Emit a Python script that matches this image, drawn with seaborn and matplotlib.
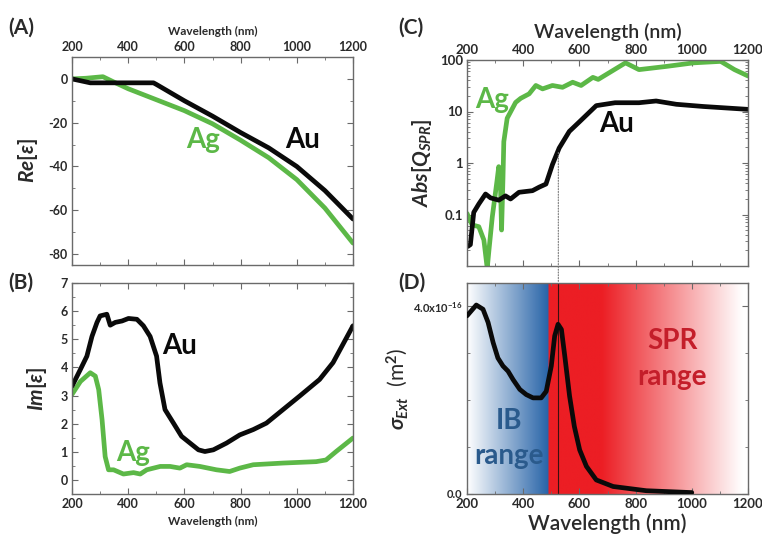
import numpy as np
import pandas as pd
import matplotlib
matplotlib.use("Agg")
import matplotlib.pyplot as plt
import seaborn as sns
from matplotlib.patches import ConnectionPatch
from matplotlib.ticker import MultipleLocator, FixedLocator, FixedFormatter, NullFormatter, LogLocator

# ---------------- data ----------------
wl_re_au = [200, 265, 490, 500, 600, 700, 800, 900, 1000, 1100, 1200]
re_au = [0, -1.8, -1.8, -2.5, -10, -17, -24.5, -31.5, -40, -51, -64]
wl_re_ag = [200, 250, 310, 350, 400, 450, 500, 600, 700, 800, 900, 1000, 1100, 1200]
re_ag = [0, 0.3, 1.0, -1.5, -4.5, -7, -9.5, -14.5, -20.5, -28, -36, -46, -59, -75]

wl_im_au = [200, 230, 253, 271, 289, 300, 324, 336, 354, 378, 401, 431, 454, 478, 501, 513,
            531, 561, 590, 620, 650, 673, 703, 750, 797, 845, 892, 951, 1010, 1081, 1129, 1200]
im_au = [3.33, 3.93, 4.4, 5.1, 5.6, 5.83, 5.89, 5.5, 5.6, 5.65, 5.74, 5.71, 5.48, 5.1, 4.4, 3.45,
         2.5, 2.02, 1.55, 1.31, 1.07, 1.01, 1.07, 1.31, 1.6, 1.79, 2.02, 2.5, 2.98, 3.57, 4.17, 5.48]
wl_im_ag = [200, 230, 265, 283, 295, 307, 318, 330, 348, 383, 419, 443, 466, 514, 549, 584,
            608, 655, 714, 761, 797, 845, 951, 1069, 1104, 1140, 1200]
im_ag = [3.04, 3.5, 3.81, 3.69, 3.21, 2.14, 0.83, 0.36, 0.36, 0.21, 0.26, 0.21, 0.36, 0.48, 0.48, 0.42,
         0.54, 0.48, 0.36, 0.3, 0.42, 0.54, 0.6, 0.65, 0.71, 1.01, 1.49]

wl_q_ag = [200, 218, 242, 260, 272, 278, 290, 307, 313, 319, 323, 328, 331, 343, 373, 391, 421,
           445, 469, 504, 540, 576, 606, 648, 667, 764, 812, 909, 1006, 1103, 1152, 1200]
q_ag = [0.105, 0.063, 0.058, 0.032, 0.009, 0.02, 0.09, 0.46, 0.85, 0.4, 0.05, 0.5, 2.6, 7.4, 15,
        18, 22, 32, 27.5, 32, 29.5, 37, 32, 46, 42, 88, 65, 75, 88, 94, 65, 49]
wl_q_au = [203, 212, 224, 242, 266, 284, 313, 337, 355, 385, 433, 457, 481, 504, 528, 564, 600,
           660, 727, 812, 873, 945, 1042, 1200]
q_au = [0.024, 0.026, 0.11, 0.16, 0.25, 0.21, 0.19, 0.23, 0.2, 0.27, 0.29, 0.34, 0.39, 0.93, 1.95,
        4.1, 6.3, 13, 14.8, 14.8, 16, 13.8, 12.5, 11]

wl_ext = [200, 233, 257, 275, 293, 310, 328, 346, 364, 388, 411, 435, 464, 482, 500, 512, 524,
          536, 548, 565, 582, 601, 625, 660, 720, 838, 1000]
ext = [3.8, 4.03, 3.94, 3.66, 3.23, 2.9, 2.73, 2.62, 2.44, 2.23, 2.12, 2.05, 2.05, 2.19, 2.73,
       3.37, 3.62, 3.51, 2.94, 2.09, 1.44, 0.94, 0.59, 0.3, 0.16, 0.07, 0.03]
ext = [v * 1e-16 for v in ext]

x_ticks = [200, 400, 600, 800, 1000, 1200]
re_ticks = [0, -20, -40, -60, -80]
im_ticks = [0, 1, 2, 3, 4, 5, 6, 7]
q_ticks = [0.1, 1, 10, 100]
q_tick_labels = ["0.1", "1", "10", "100"]
ext_ticks = [0.0, 4.0e-16]
ext_tick_labels = ["0.0", r"4.0x10$^{-16}$"]

# ---------------- style ----------------
sns.set_style("ticks")
plt.rcParams["font.family"] = ["Lato", "DejaVu Sans"]
plt.rcParams["font.weight"] = "bold"
plt.rcParams["axes.unicode_minus"] = False
plt.rcParams["mathtext.fontset"] = "custom"
plt.rcParams["mathtext.rm"] = "Lato"
plt.rcParams["mathtext.it"] = "Lato:italic"
plt.rcParams["mathtext.bf"] = "Lato:bold"

GREEN = "#5cb847"
BLACK = "#0a0a0a"
SPINE = "#6a6a6a"
TXT = "#2a2a2a"
LW = 3.4

W, H = 762, 541
fig = plt.figure(figsize=(W / 100, H / 100), dpi=100)


def box(l, t, r, b):
    return [l / W, 1 - b / H, (r - l) / W, (b - t) / H]


axA = fig.add_axes(box(72, 57, 353, 265))
axB = fig.add_axes(box(72, 283, 353, 494))
axC = fig.add_axes(box(467, 60, 748, 266))
axD = fig.add_axes(box(467, 283, 748, 494))


def style(ax, top_labels, fs):
    for s in ax.spines.values():
        s.set_color(SPINE)
        s.set_linewidth(1.0)
    ax.tick_params(which="both", direction="in", top=True, right=True, color=SPINE,
                   labelsize=fs, labelcolor=TXT, pad=3)
    ax.tick_params(which="major", length=4, width=0.8)
    ax.tick_params(which="minor", length=2, width=0.6)
    ax.tick_params(axis="x", labeltop=top_labels, labelbottom=not top_labels)
    ax.set_xlim(200, 1200)
    ax.xaxis.set_major_locator(FixedLocator(x_ticks))
    ax.xaxis.set_minor_locator(MultipleLocator(100))


# ---- A ----
sns.lineplot(x=wl_re_ag, y=re_ag, ax=axA, color=GREEN, lw=LW)
sns.lineplot(x=wl_re_au, y=re_au, ax=axA, color=BLACK, lw=LW)
axA.set_ylim(-85, 10)
axA.yaxis.set_major_locator(FixedLocator(re_ticks))
axA.yaxis.set_minor_locator(MultipleLocator(10))
style(axA, True, 9)
axA.xaxis.set_label_position("top")
axA.set_xlabel("Wavelength (nm)", fontsize=8.5, fontweight="bold", color=TXT, labelpad=4)
axA.set_ylabel(r"$Re[\varepsilon]$", fontsize=15, color=TXT, labelpad=6)
axA.text(1022, -28, "Au", fontsize=20, fontweight="bold", color=BLACK, ha="center", va="center")
axA.text(666, -28, "Ag", fontsize=20, fontweight="bold", color=GREEN, ha="center", va="center")

# ---- B ----
sns.lineplot(x=wl_im_ag, y=im_ag, ax=axB, color=GREEN, lw=LW)
sns.lineplot(x=wl_im_au, y=im_au, ax=axB, color=BLACK, lw=LW)
axB.set_ylim(-0.5, 7)
axB.yaxis.set_major_locator(FixedLocator(im_ticks))
axB.yaxis.set_minor_locator(MultipleLocator(0.5))
style(axB, False, 9)
axB.set_xlabel("Wavelength (nm)", fontsize=8.5, fontweight="bold", color=TXT, labelpad=4)
axB.set_ylabel(r"$Im[\varepsilon]$", fontsize=15, color=TXT, labelpad=8)
axB.text(584, 4.75, "Au", fontsize=20, fontweight="bold", color=BLACK, ha="center", va="center")
axB.text(417, 0.96, "Ag", fontsize=20, fontweight="bold", color=GREEN, ha="center", va="center")

# ---- C ----
sns.lineplot(x=wl_q_ag, y=q_ag, ax=axC, color=GREEN, lw=LW)
sns.lineplot(x=wl_q_au, y=q_au, ax=axC, color=BLACK, lw=LW)
axC.set_yscale("log")
axC.set_ylim(0.01, 100)
axC.yaxis.set_major_locator(FixedLocator(q_ticks))
axC.yaxis.set_major_formatter(FixedFormatter(q_tick_labels))
axC.yaxis.set_minor_locator(LogLocator(base=10, subs=np.arange(2, 10)))
axC.yaxis.set_minor_formatter(NullFormatter())
style(axC, True, 9.5)
axC.xaxis.set_label_position("top")
axC.set_xlabel("Wavelength (nm)", fontsize=14, fontweight="semibold", color=TXT, labelpad=4)
axC.set_ylabel(r"$Abs[Q_{SPR}]$", fontsize=15, color=TXT, labelpad=4)
axC.text(289, 17, "Ag", fontsize=20, fontweight="bold", color=GREEN, ha="center", va="center")
axC.text(734, 5.6, "Au", fontsize=20, fontweight="bold", color=BLACK, ha="center", va="center")

# ---- D ----
xs = np.linspace(200, 1200, 1000)
img = np.ones((1, len(xs), 3))
blue = np.array([40, 100, 168]) / 255
red = np.array([236, 30, 36]) / 255
for i, xv in enumerate(xs):
    if xv < 490:
        t = (xv - 200) / 290
        img[0, i] = (1 - t) * np.ones(3) + t * blue
    elif xv < 680:
        img[0, i] = red
    else:
        t = min((xv - 680) / 500, 1.0)
        img[0, i] = (1 - t) * red + t * np.ones(3)
axD.imshow(img, extent=[200, 1200, 0, 4.5e-16], aspect="auto", zorder=0, interpolation="bilinear")
axD.axvline(525, color="#3a1010", lw=0.8, zorder=1)
sns.lineplot(x=wl_ext, y=ext, ax=axD, color=BLACK, lw=LW, zorder=3)
axD.set_ylim(0, 4.5e-16)
axD.yaxis.set_major_locator(FixedLocator(ext_ticks))
axD.yaxis.set_major_formatter(FixedFormatter(ext_tick_labels))
axD.yaxis.set_minor_locator(MultipleLocator(1e-16))
style(axD, False, 9.5)
axD.tick_params(axis="y", labelsize=8)
axD.set_xlabel("Wavelength (nm)", fontsize=15, fontweight="semibold", color=TXT, labelpad=2)
axD.set_ylabel(r"$\sigma_{Ext}$  (m$^2$)", fontsize=15, color=TXT, labelpad=2)
axD.text(348, 1.56e-16, "IB", fontsize=20, fontweight="bold", color="#2a5a8c", ha="center", va="center")
axD.text(348, 0.80e-16, "range", fontsize=20, fontweight="bold", color="#2a5a8c", ha="center", va="center")
axD.text(930, 3.27e-16, "SPR", fontsize=20, fontweight="bold", color="#c41e2a", ha="center", va="center")
axD.text(930, 2.50e-16, "range", fontsize=20, fontweight="bold", color="#c41e2a", ha="center", va="center")

con = ConnectionPatch(xyA=(525, 1.6), coordsA=axC.transData, xyB=(525, 4.5e-16), coordsB=axD.transData,
                      color="#777777", lw=0.8, linestyle=(0, (1, 1.5)))
fig.add_artist(con)

# panel letters
for lbl, x, y in [("(A)", 8, 28), ("(B)", 8, 283), ("(C)", 398, 28), ("(D)", 398, 283)]:
    fig.text(x / W, 1 - y / H, lbl, fontsize=15, fontweight="bold", color=TXT, ha="left", va="center")

fig.savefig("out.png", dpi=100)
